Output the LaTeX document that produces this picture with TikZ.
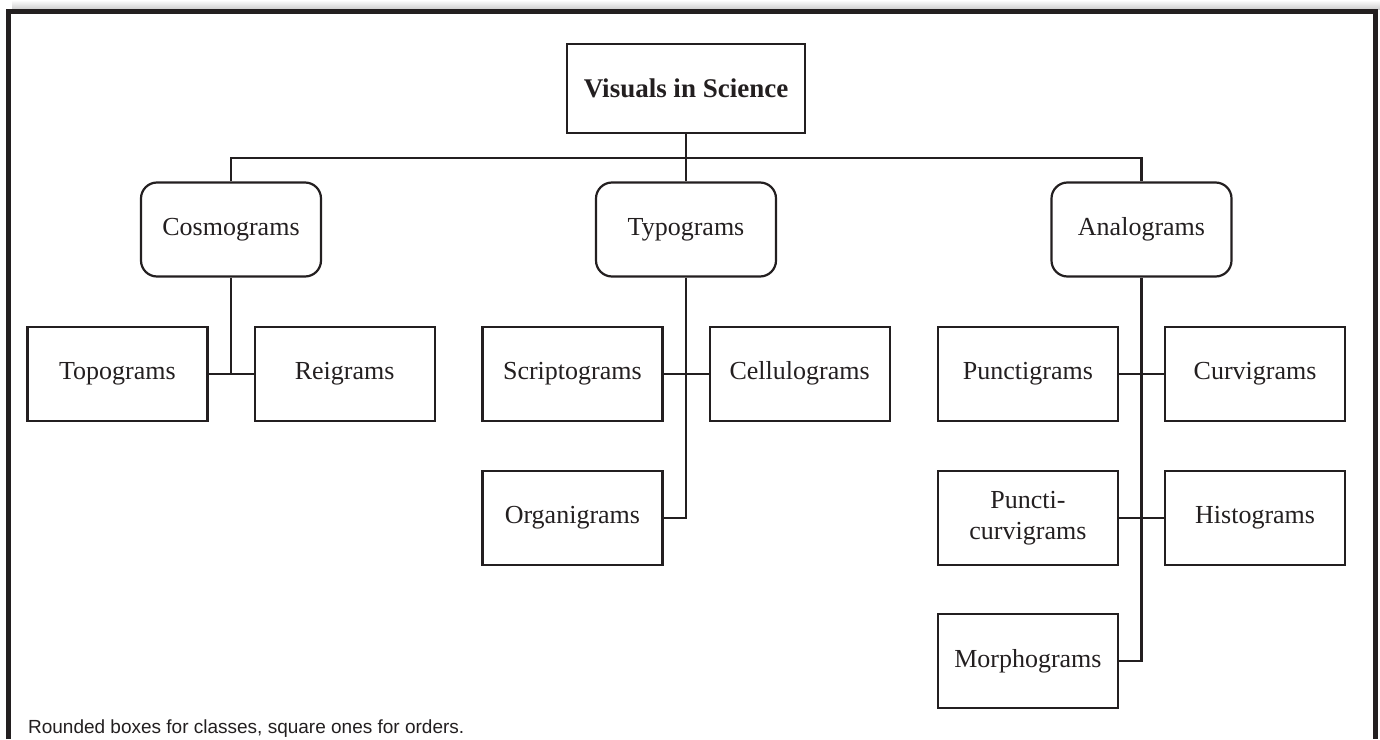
\documentclass[tikz,border=0pt]{standalone}
\usepackage{fontspec}
\setmainfont{Liberation Serif}
\newfontfamily\notefont{Liberation Sans}
\usetikzlibrary{positioning, calc}
\definecolor{ink}{HTML}{231F20}

\begin{document}
\begin{tikzpicture}[x=0.5pt, y=-0.5pt, color=ink, line width=1.1pt,
    box/.style={rectangle, draw, minimum width=90pt, minimum height=47pt,
      inner sep=2pt, align=center, font=\fontsize{13}{15.5}\selectfont},
    class/.style={box, rounded corners=8pt},
    order/.style={box},
    frame/.style={line width=2.6pt},
    node distance=24pt and 11.25pt]

  \useasboundingbox (0,0) rectangle (1380,739);
  \shade[top color=white, bottom color=black!20] (12,0) rectangle (1380,9.5);
  \draw[frame] (8.5,739) -- (8.5,11.5) -- (1375.5,11.5) -- (1375.5,739);

  \node[box, minimum width=119pt, minimum height=44.5pt,
    font=\fontsize{13.5}{16}\selectfont\bfseries] (vis) at (686,88.5) {Visuals in Science};

  \node[class] (cosmo) at (231,229.5) {Cosmograms};
  \node[class] (typo) at (686,229.5) {Typograms};
  \node[class] (analo) at (1141.5,229.5) {Analograms};

  \node[order, below left=of cosmo.south] (topo) {Topograms};
  \node[order, below right=of cosmo.south] (reig) {Reigrams};

  \node[order, below left=of typo.south] (script) {Scriptograms};
  \node[order, below right=of typo.south] (cellulo) {Cellulograms};
  \node[order, below=of script] (organi) {Organigrams};

  \node[order, below left=of analo.south] (puncti) {Punctigrams};
  \node[order, below right=of analo.south] (curvi) {Curvigrams};
  \node[order, below=of puncti] (pcurvi) {Puncti-\\curvigrams};
  \node[order, below=of curvi] (histo) {Histograms};
  \node[order, below=23.5pt of pcurvi] (morpho) {Morphograms};

  \coordinate (bus) at ($(vis.south)!0.5!(typo.north)$);
  \draw (vis) -- (typo);
  \draw (cosmo.north) |- (bus) -| (analo.north);

  \draw (cosmo) -- (cosmo |- topo.east);
  \draw (topo) -- (reig);
  \draw (typo) |- (organi);
  \draw (script) -- (cellulo);
  \draw (analo) |- (morpho);
  \draw (puncti) -- (curvi);
  \draw (pcurvi) -- (histo);

  \node[font=\notefont\fontsize{9.5}{11}\selectfont, anchor=base west, inner sep=0pt]
    (legend) at (27,733) {Rounded boxes for classes, square ones for orders.};
\end{tikzpicture}
\end{document}
